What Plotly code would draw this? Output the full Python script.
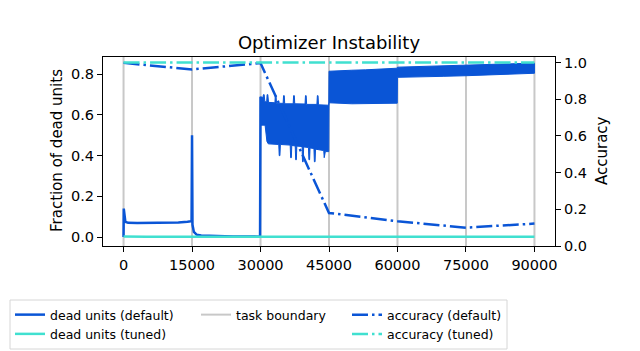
import plotly.graph_objects as go

# task boundaries (x ticks too)
task_boundaries = [0, 15000, 30000, 45000, 60000, 75000, 90000]

# accuracy, evaluated at the end of each task
acc_steps = [0, 15000, 30000, 45000, 60000, 75000, 90000]
acc_default = [0.998, 0.962, 0.997, 0.18, 0.135, 0.10, 0.122]
acc_tuned = [1.0, 0.999, 1.0, 1.0, 1.0, 1.0, 1.0]

# dead units (tuned) stays near zero
dead_tuned_x = [0, 5000, 15000, 30000, 45000, 60000, 75000, 90000]
dead_tuned = [0.003, 0.001, 0.002, 0.002, 0.001, 0.001, 0.001, 0.001]

# dead units (default), first two tasks (thin line)
dead_early_x = [0, 50, 400, 1000, 3000, 6000, 9000, 12000, 14000, 14900, 15000,
                15100, 15400, 16000, 17000, 20000, 24000, 29900, 30000]
dead_early = [0.0, 0.14, 0.075, 0.070, 0.069, 0.069, 0.070, 0.072, 0.075, 0.078, 0.50,
              0.06, 0.025, 0.012, 0.008, 0.005, 0.003, 0.002, 0.69]

# dead units (default), noisy part from 30000 on: top and bottom of the band
band_top_x = [30000, 30500, 30650, 30800, 30950, 31350, 31450, 31600, 31750,
              33150, 33250, 33400, 33500, 34950, 35050, 35200, 35300,
              37150, 37250, 37400, 37500, 39750, 39850, 40000, 40100,
              42350, 42450, 42600, 42700, 44950,
              45000, 47000, 50000, 53000, 56000, 59950,
              60000, 63000, 66000, 70000, 75000, 80000, 85000, 90000]
band_top = [0.69, 0.685, 0.70, 0.70, 0.665, 0.665, 0.70, 0.70, 0.662,
            0.66, 0.697, 0.697, 0.658, 0.657, 0.695, 0.695, 0.655,
            0.655, 0.695, 0.695, 0.655, 0.654, 0.695, 0.695, 0.652,
            0.652, 0.695, 0.695, 0.65, 0.648,
            0.815, 0.818, 0.82, 0.822, 0.826, 0.83,
            0.835, 0.837, 0.84, 0.843, 0.846, 0.849, 0.852, 0.855]
band_bottom_x = [30000, 31000, 31400, 31700, 34000, 34100, 34250, 34350,
                 36500, 36600, 36750, 36850, 37600, 37700, 37850, 37950,
                 39100, 39200, 39350, 39450, 40500, 40600, 40750, 40850,
                 41700, 41800, 41950, 42050, 43850, 43950, 44100, 44200, 44950,
                 45000, 50000, 55000, 59950,
                 60000, 62000, 66000, 70000, 75000, 80000, 85000, 90000]
band_bottom = [0.55, 0.55, 0.47, 0.458, 0.455, 0.40, 0.40, 0.455,
               0.452, 0.39, 0.39, 0.45, 0.448, 0.38, 0.38, 0.447,
               0.445, 0.37, 0.37, 0.443, 0.44, 0.38, 0.38, 0.438,
               0.435, 0.37, 0.37, 0.432, 0.425, 0.39, 0.39, 0.42, 0.42,
               0.66, 0.655, 0.657, 0.658,
               0.785, 0.783, 0.787, 0.79, 0.793, 0.797, 0.80, 0.805]

blue = "#0a55d6"
turq = "#40e0d0"
grey = "#c8c8c8"
font = "DejaVu Sans"

y_left = [-0.044, 0.885]
y_right = [0, 1.03]

fig = go.Figure()

# task boundary lines
bx, by = [], []
for b in task_boundaries:
    bx += [b, b, None]
    by += [y_left[0], y_left[1], None]
fig.add_trace(go.Scatter(x=bx, y=by, mode="lines", line=dict(color=grey, width=2),
                         name="task boundary", legend="legend2"))

fig.add_trace(go.Scatter(x=dead_early_x, y=dead_early, mode="lines",
                         line=dict(color=blue, width=2.5), name="dead units (default)",
                         legend="legend", legendgroup="dd"))
fig.add_trace(go.Scatter(x=band_top_x + band_bottom_x[::-1], y=band_top + band_bottom[::-1],
                         mode="lines", fill="toself", fillcolor=blue,
                         line=dict(color=blue, width=1), showlegend=False,
                         legend="legend", legendgroup="dd"))
fig.add_trace(go.Scatter(x=dead_tuned_x, y=dead_tuned, mode="lines",
                         line=dict(color=turq, width=2.5), name="dead units (tuned)",
                         legend="legend"))

dashdot = "16px,4px,2.5px,4px"
fig.add_trace(go.Scatter(x=acc_steps, y=acc_default, mode="lines", yaxis="y2",
                         line=dict(color=blue, width=2.5, dash=dashdot),
                         name="accuracy (default)", legend="legend3"))
fig.add_trace(go.Scatter(x=acc_steps, y=acc_tuned, mode="lines", yaxis="y2",
                         line=dict(color=turq, width=2.5, dash=dashdot),
                         name="accuracy (tuned)", legend="legend3"))

# plot area: x 103..555, y 57..246 px
W, H = 640, 351
L, R, T, B = 103, 85, 57, 105
pw, ph = W - L - R, H - T - B


def px_x(p):
    return (p - L) / pw


def px_y(p):
    return (H - B - p) / ph


leg = dict(font=dict(family=font, size=12.5, color="black"), bgcolor="rgba(0,0,0,0)",
           borderwidth=0, xanchor="left", yanchor="top", orientation="v",
           xref="container", yref="container", tracegroupgap=0)

axis_common = dict(showline=True, linecolor="black", linewidth=1.2, ticks="outside",
                   ticklen=5, tickwidth=1.2, tickcolor="black", showgrid=False,
                   zeroline=False, automargin=False,
                   tickfont=dict(family=font, size=14.5, color="black"))

axis_title_font = dict(family=font, size=15, color="black")

fig.update_layout(
    width=W, height=H,
    margin=dict(l=L, r=R, t=T, b=B, autoexpand=False),
    plot_bgcolor="white", paper_bgcolor="white",
    font=dict(family=font, color="black"),
    title=dict(text="Optimizer Instability", x=px_x(329), xref="paper", xanchor="center",
               y=1 - 43 / H, yref="container", yanchor="middle",
               font=dict(family=font, size=18, color="black")),
    xaxis=dict(range=[-4500, 94500], tickvals=task_boundaries, tickformat="d",
               mirror=True, **axis_common),
    yaxis=dict(range=y_left, dtick=0.2, tick0=0, tickformat=".1f", **axis_common),
    yaxis2=dict(range=y_right, dtick=0.2, tick0=0, tickformat=".1f", overlaying="y",
                side="right", **axis_common),
    legend=dict(x=10 / W, y=1 - 300 / H, **leg),
    legend2=dict(x=196 / W, y=1 - 300 / H, **leg),
    legend3=dict(x=347 / W, y=1 - 300 / H, **leg),
    shapes=[dict(type="rect", xref="paper", yref="paper",
                 x0=px_x(10), x1=px_x(507), y0=px_y(349), y1=px_y(300),
                 line=dict(color="#d6d6d6", width=1), fillcolor="rgba(0,0,0,0)")],
    annotations=[
        dict(text="Fraction of dead units", xref="paper", yref="paper",
             x=px_x(57), y=px_y(151), textangle=-90, showarrow=False,
             xanchor="center", yanchor="middle", font=axis_title_font),
        dict(text="Accuracy", xref="paper", yref="paper",
             x=px_x(602), y=px_y(151), textangle=-90, showarrow=False,
             xanchor="center", yanchor="middle", font=axis_title_font),
    ],
)

# drop the default page margin so the figure sits at the window's corner
fig.write_html("out.html", config={"displayModeBar": False},
               post_script="document.body.style.margin='0';")
